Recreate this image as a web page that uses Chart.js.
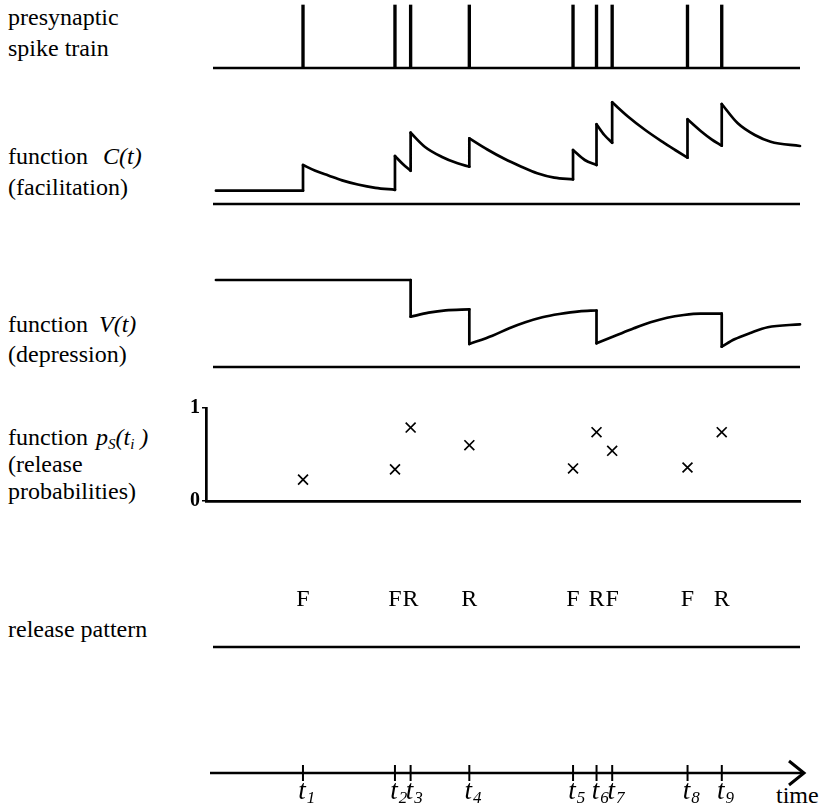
<!DOCTYPE html>
<html><head><meta charset="utf-8">
<script src="https://cdn.jsdelivr.net/npm/chart.js@4.4.0/dist/chart.umd.min.js"></script>
<style>
body{margin:0;background:#fff;width:827px;height:804px;position:relative;overflow:hidden;font-family:'Liberation Serif','Times New Roman',serif;color:#000}
canvas{position:absolute;left:0}
.lbl{position:absolute;left:8px;font-size:24px;line-height:30px;white-space:nowrap}
.lbl sub{font-size:15px;vertical-align:-4px;line-height:0}
</style></head><body>
<div class="lbl" style="top:2px">presynaptic</div>
<div class="lbl" style="top:33px">spike train</div>
<div class="lbl" style="top:141px">function <i style="margin-left:9px">C(t)</i></div>
<div class="lbl" style="top:172px">(facilitation)</div>
<div class="lbl" style="top:309px">function <i style="margin-left:5px">V(t)</i></div>
<div class="lbl" style="top:339px">(depression)</div>
<div class="lbl" style="top:422px">function <i style="margin-left:2px">p<sub>S</sub>(t<sub>i</sub> )</i></div>
<div class="lbl" style="top:449px">(release</div>
<div class="lbl" style="top:476px">probabilities)</div>
<div class="lbl" style="top:614px">release pattern</div>
<div class="lbl" style="top:781px;left:776px;font-size:24px;line-height:28px">time</div>

<canvas id="cSpk" width="827" height="76" style="top:0px"></canvas>
<canvas id="cFac" width="827" height="130" style="top:84px"></canvas>
<canvas id="cDep" width="827" height="115" style="top:262px"></canvas>
<canvas id="cProb" width="827" height="130" style="top:385px"></canvas>
<canvas id="cRel" width="827" height="75" style="top:580px"></canvas>
<canvas id="cTime" width="827" height="64" style="top:740px"></canvas>

<script>
// ---------- data ----------
const T_START = 0, T_END = 300;                       // time range (ms)
const spikeTimes = [46, 93, 101, 131, 184, 196, 204, 242.5, 260];
const tickSubscripts = ['1','2','3','4','5','6','7','8','9'];
const releaseType = ['F','F','R','R','F','R','F','F','R'];
const releaseProb = [0.23, 0.34, 0.79, 0.60, 0.35, 0.74, 0.54, 0.36, 0.74];

// facilitation C(t): a repeated time = instantaneous jump at a spike
const facilT = [1.5, 46,
  46, 52, 59, 66, 74, 83, 93,
  93, 97, 101,
  101, 108.2, 116.8, 125, 131,
  131, 140.2, 148.9, 157.6, 165.7, 174.4, 184,
  184, 190, 196,
  196, 200, 204,
  204, 212.2, 220.9, 229.6, 236.2, 242.5,
  242.5, 249.7, 254.8, 260,
  260, 268.2, 276.9, 285, 300];
const facilC = [0.133, 0.133,
  0.39, 0.335, 0.285, 0.236, 0.195, 0.162, 0.142,
  0.48, 0.40, 0.333,
  0.713, 0.573, 0.473, 0.407, 0.373,
  0.657, 0.545, 0.452, 0.373, 0.307, 0.263, 0.247,
  0.54, 0.44, 0.39,
  0.797, 0.69, 0.613,
  1.017, 0.873, 0.74, 0.623, 0.540, 0.463,
  0.847, 0.723, 0.647, 0.583,
  1.0, 0.807, 0.69, 0.623, 0.58];

// depression V(t)
const deprT = [1.5, 101,
  101, 110.2, 118.9, 131,
  131, 142.8, 151.4, 159.6, 168.3, 177, 187.2, 196,
  196, 206.5, 215.1, 223.6, 232.1, 240.6, 249.1, 260,
  260, 266.5, 275, 283.5, 300];
const deprV = [0.87, 0.87,
  0.503, 0.543, 0.567, 0.577,
  0.23, 0.313, 0.387, 0.447, 0.497, 0.53, 0.557, 0.565,
  0.237, 0.32, 0.387, 0.447, 0.493, 0.52, 0.533, 0.533,
  0.203, 0.277, 0.343, 0.397, 0.427];

// ---------- setup ----------
const FONT = "'Liberation Serif','Times New Roman',serif";
const INK = '#000';
Chart.defaults.font.family = FONT;
Chart.defaults.color = INK;
Chart.defaults.animation = false;
Chart.defaults.responsive = false;
Chart.defaults.devicePixelRatio = 1;
Chart.defaults.events = [];
Chart.defaults.plugins.legend.display = false;
Chart.defaults.plugins.tooltip.enabled = false;

const lineStyle = {borderColor: INK, borderWidth: 2.7, pointRadius: 0, fill: false, clip: false,
  borderCapStyle: 'round', borderJoinStyle: 'round'};
const baseline = () => ({type: 'line', data: [{x: T_START, y: 0}, {x: T_END, y: 0}], tension: 0, ...lineStyle, borderCapStyle: 'butt'});
const hiddenX = (min = T_START, max = T_END) => ({type: 'linear', min, max, display: false, offset: false});
const hiddenY = (min, max) => ({type: 'linear', min, max, display: false});

function traceDatasets(ts, vs) {
  const pts = ts.map((t, i) => ({x: t, y: vs[i]}));
  const runs = [], jumps = [];
  let cur = [pts[0]];
  for (let i = 1; i < pts.length; i++) {
    if (pts[i].x === pts[i - 1].x) {
      runs.push(cur);
      jumps.push(pts[i - 1], pts[i], {x: pts[i].x, y: null});
      cur = [pts[i]];
    } else cur.push(pts[i]);
  }
  runs.push(cur);
  const ds = runs.map(r => ({type: 'line', data: r, cubicInterpolationMode: 'monotone', ...lineStyle}));
  ds.push({type: 'line', data: jumps, tension: 0, spanGaps: false, ...lineStyle});
  return ds;
}

// 1. presynaptic spike train
new Chart(document.getElementById('cSpk'), {
  type: 'bar',
  data: {datasets: [
    {type: 'bar', data: spikeTimes.map(t => ({x: t, y: 1})), backgroundColor: INK, barThickness: 2.7, borderWidth: 0, clip: false},
    baseline()
  ]},
  options: {layout: {padding: {left: 213, right: 27, top: 5, bottom: 8}},
    scales: {x: hiddenX(), y: hiddenY(0, 1)}}
});

// 2. facilitation
new Chart(document.getElementById('cFac'), {
  type: 'line',
  data: {datasets: [baseline(), ...traceDatasets(facilT, facilC)]},
  options: {layout: {padding: {left: 213, right: 27, top: 10, bottom: 10}},
    scales: {x: hiddenX(), y: hiddenY(0, 1.1)}}
});

// 3. depression
new Chart(document.getElementById('cDep'), {
  type: 'line',
  data: {datasets: [baseline(), ...traceDatasets(deprT, deprV)]},
  options: {layout: {padding: {left: 213, right: 27, top: 10, bottom: 10}},
    scales: {x: hiddenX(), y: hiddenY(0, 0.95)}}
});

// 4. release probabilities
new Chart(document.getElementById('cProb'), {
  type: 'scatter',
  data: {datasets: [{data: spikeTimes.map((t, i) => ({x: t, y: releaseProb[i]})),
    pointStyle: 'crossRot', pointRadius: 7, borderColor: INK, borderWidth: 1.7, clip: false}]},
  options: {layout: {padding: {left: 176, right: 27, top: 23, bottom: 12}},
    scales: {
      x: {type: 'linear', min: -3.6, max: T_END, offset: false,
        ticks: {display: false}, grid: {display: false},
        border: {display: true, color: INK, width: 2.7},
        afterFit: s => { s.height = 0; }},
      y: {type: 'linear', min: 0, max: 1,
        ticks: {stepSize: 1, padding: 2, color: INK, font: {family: FONT, size: 20, weight: 'bold'}},
        grid: {display: true, drawOnChartArea: false, drawTicks: true, tickLength: 4, color: INK, lineWidth: 1.5},
        border: {display: true, color: INK, width: 2.7},
        afterFit: s => { s.width = 30; }}
    }}
});

// 5. release pattern
const releaseLetters = {
  id: 'releaseLetters',
  afterDatasetsDraw(chart) {
    const {ctx, scales: {x, y}} = chart;
    ctx.save();
    ctx.font = `24px ${FONT}`;
    ctx.textAlign = 'center';
    ctx.textBaseline = 'alphabetic';
    ctx.fillStyle = INK;
    spikeTimes.forEach((t, i) => ctx.fillText(releaseType[i], x.getPixelForValue(t), y.getPixelForValue(0) - 41));
    ctx.restore();
  }
};
new Chart(document.getElementById('cRel'), {
  type: 'line',
  data: {datasets: [baseline()]},
  options: {layout: {padding: {left: 213, right: 27, top: 10, bottom: 8}},
    scales: {x: hiddenX(), y: hiddenY(0, 1)}},
  plugins: [releaseLetters]
});

// 6. time axis
const timeAxis = {
  id: 'timeAxis',
  beforeDatasetsDraw(chart) {
    const {ctx, chartArea, scales: {y}} = chart;
    const y0 = y.getPixelForValue(0);
    ctx.save();
    ctx.strokeStyle = INK;
    ctx.lineWidth = 2.7;
    ctx.beginPath();
    ctx.moveTo(chartArea.left, y0);
    ctx.lineTo(chartArea.right - 2, y0);
    ctx.stroke();
    ctx.lineWidth = 3;
    ctx.lineJoin = 'miter';
    ctx.beginPath();
    ctx.moveTo(chartArea.right - 15, y0 - 12);
    ctx.lineTo(chartArea.right, y0);
    ctx.lineTo(chartArea.right - 15, y0 + 12);
    ctx.stroke();
    ctx.restore();
  },
  afterDatasetsDraw(chart) {
    const {ctx, scales: {x, y}} = chart;
    const y0 = y.getPixelForValue(0);
    ctx.save();
    ctx.fillStyle = INK;
    ctx.textBaseline = 'alphabetic';
    ctx.textAlign = 'left';
    spikeTimes.forEach((t, i) => {
      const px = x.getPixelForValue(t);
      ctx.font = `italic 27px ${FONT}`;
      const w = ctx.measureText('t').width;
      ctx.fillText('t', px - w / 2 - 1, y0 + 26);
      ctx.font = `italic 17px ${FONT}`;
      ctx.fillText(tickSubscripts[i], px + w / 2, y0 + 30);
    });
    ctx.restore();
  }
};
new Chart(document.getElementById('cTime'), {
  type: 'scatter',
  data: {datasets: [{data: spikeTimes.map(t => ({x: t, y: 0})), pointStyle: 'line', rotation: 90,
    pointRadius: 8, borderColor: INK, borderWidth: 2, clip: false}]},
  options: {layout: {padding: {left: 210, right: 23, top: 17, bottom: 15}},
    scales: {x: hiddenX(-1.5, 302), y: hiddenY(-1, 1)}},
  plugins: [timeAxis]
});
</script>
</body></html>
